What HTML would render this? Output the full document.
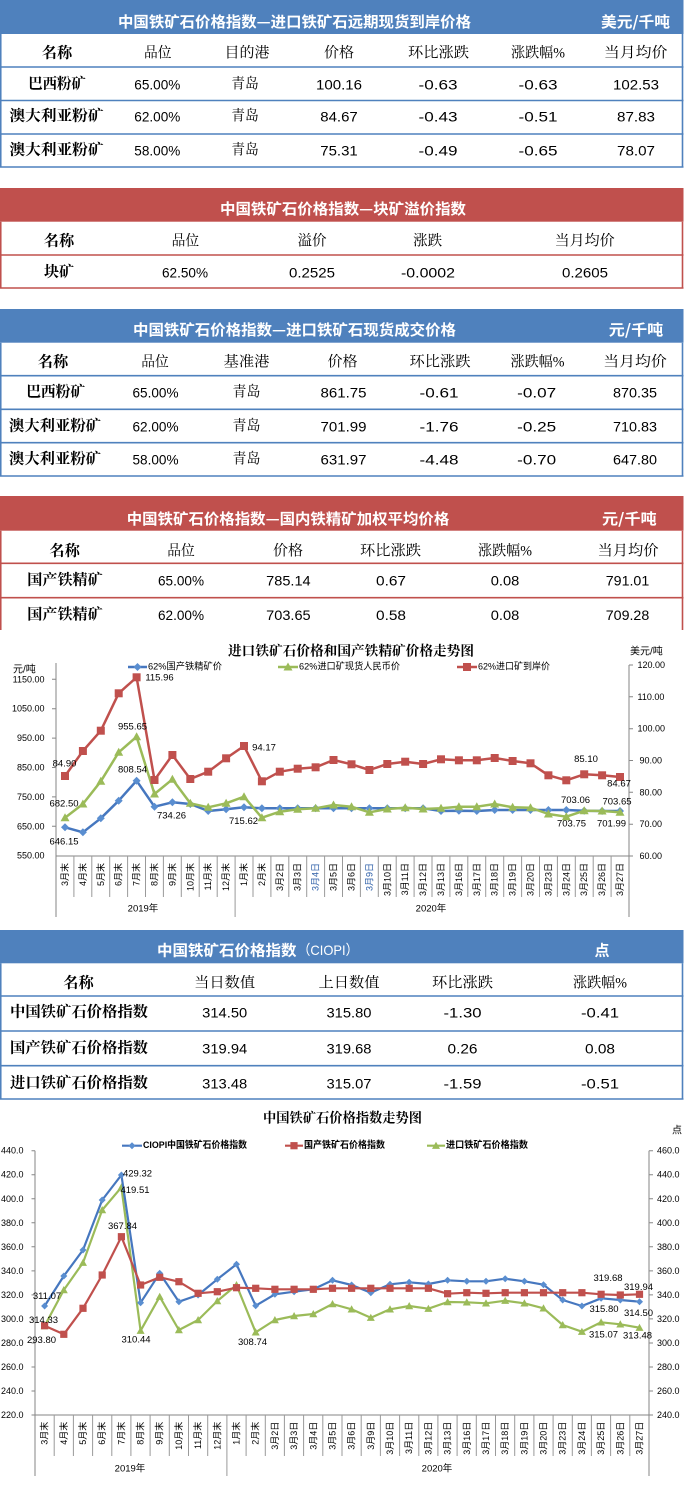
<!DOCTYPE html>
<html><head><meta charset="utf-8">
<style>
html,body{margin:0;padding:0;background:#fff;}
body{width:684px;height:1487px;overflow:hidden;}
svg{display:block;}
text{font-family:"Liberation Sans","Noto Sans CJK SC",sans-serif;fill:#000;}
.ht{font-family:"Noto Sans CJK SC",sans-serif;font-weight:700;font-size:15px;fill:#fff;text-anchor:middle;dominant-baseline:central;}
.th{font-family:"Liberation Serif","Noto Serif CJK SC",serif;font-size:14.5px;text-anchor:middle;dominant-baseline:central;}
.nm{font-family:"Liberation Serif","Noto Serif CJK SC",serif;font-size:15px;font-weight:700;text-anchor:middle;dominant-baseline:central;}
.n{font-family:"Liberation Sans",sans-serif;font-size:14px;text-anchor:middle;dominant-baseline:central;}
.ct{font-family:"Liberation Serif","Noto Serif CJK SC",serif;font-weight:700;font-size:13.5px;text-anchor:middle;dominant-baseline:central;}
.lg{font-size:9.5px;dominant-baseline:central;}
.lg2{font-size:9.5px;font-weight:700;dominant-baseline:central;}
.ax{font-size:9px;dominant-baseline:central;}
.axl{font-size:9px;dominant-baseline:central;text-anchor:end;}
.dl{font-size:9.5px;text-anchor:middle;dominant-baseline:central;}
.cl text{font-size:9px;text-anchor:end;dominant-baseline:central;}
.yr{font-size:9.5px;text-anchor:middle;dominant-baseline:central;}
</style></head>
<body>
<svg width="684" height="1487" viewBox="0 0 684 1487" xmlns="http://www.w3.org/2000/svg">
<defs>
<marker id="d1" markerUnits="userSpaceOnUse" markerWidth="12" markerHeight="12" viewBox="-6 -6 12 12" refX="0" refY="0" overflow="visible"><path d="M0,-4L4,0L0,4L-4,0Z" fill="#5a8ed0"/></marker>
<marker id="t1" markerUnits="userSpaceOnUse" markerWidth="12" markerHeight="12" viewBox="-6 -6 12 12" refX="0" refY="0" overflow="visible"><path d="M0,-4.5L4.5,3.5L-4.5,3.5Z" fill="#9bbb59"/></marker>
<marker id="s1" markerUnits="userSpaceOnUse" markerWidth="12" markerHeight="12" viewBox="-6 -6 12 12" refX="0" refY="0" overflow="visible"><path d="M-4,-4H4V4H-4Z" fill="#c0504d"/></marker>
<marker id="d2" markerUnits="userSpaceOnUse" markerWidth="12" markerHeight="12" viewBox="-6 -6 12 12" refX="0" refY="0" overflow="visible"><path d="M0,-3.5L3.5,0L0,3.5L-3.5,0Z" fill="#5a8ed0"/></marker>
<marker id="t2" markerUnits="userSpaceOnUse" markerWidth="12" markerHeight="12" viewBox="-6 -6 12 12" refX="0" refY="0" overflow="visible"><path d="M0,-4L4,3.2L-4,3.2Z" fill="#9bbb59"/></marker>
<marker id="s2" markerUnits="userSpaceOnUse" markerWidth="12" markerHeight="12" viewBox="-6 -6 12 12" refX="0" refY="0" overflow="visible"><path d="M-3.6,-3.6H3.6V3.6H-3.6Z" fill="#c0504d"/></marker>
</defs>

<!-- TABLE 1 -->
<rect x="0" y="0" width="683.5" height="34" fill="#4f81bd"/>
<path d="M0.75,34V167M682.5,34V167M0,67H683.5M0,100.5H683.5M0,134H683.5M0,167H683.5" stroke="#4f81bd" stroke-width="1.6" fill="none"/>
<text class="ht" x="294.5" y="21.5" textLength="353" lengthAdjust="spacingAndGlyphs">中国铁矿石价格指数—进口铁矿石远期现货到岸价格</text>
<text class="ht" x="635.5" y="21.5" textLength="69" lengthAdjust="spacingAndGlyphs">美元/千吨</text>
<text class="nm" x="57" y="53.3" textLength="30.5" lengthAdjust="spacingAndGlyphs">名称</text>
<text class="th" x="157.7" y="53.3" textLength="27.5" lengthAdjust="spacingAndGlyphs">品位</text>
<text class="th" x="247" y="53.3" textLength="45" lengthAdjust="spacingAndGlyphs">目的港</text>
<text class="th" x="339" y="53.3" textLength="30" lengthAdjust="spacingAndGlyphs">价格</text>
<text class="th" x="438.5" y="53.3" textLength="61" lengthAdjust="spacingAndGlyphs">环比涨跌</text>
<text class="th" x="538" y="53.3" textLength="54" lengthAdjust="spacingAndGlyphs">涨跌幅%</text>
<text class="th" x="635.7" y="53.3" textLength="63.5" lengthAdjust="spacingAndGlyphs">当月均价</text>

<text class="nm" x="57" y="84.5" textLength="57.6" lengthAdjust="spacingAndGlyphs">巴西粉矿</text>
<text class="n" x="157.3" y="84.5" textLength="46" lengthAdjust="spacingAndGlyphs">65.00%</text>
<text class="th" x="245" y="84.5" textLength="27.5" lengthAdjust="spacingAndGlyphs">青岛</text>
<text class="n" x="339" y="84.5" textLength="46" lengthAdjust="spacingAndGlyphs">100.16</text>
<text class="n" x="438" y="84.5" textLength="39" lengthAdjust="spacingAndGlyphs">-0.63</text>
<text class="n" x="538" y="84.5" textLength="39" lengthAdjust="spacingAndGlyphs">-0.63</text>
<text class="n" x="636" y="84.5" textLength="46" lengthAdjust="spacingAndGlyphs">102.53</text>

<text class="nm" x="56.5" y="116.7" textLength="94" lengthAdjust="spacingAndGlyphs">澳大利亚粉矿</text>
<text class="n" x="157.3" y="116.7" textLength="46" lengthAdjust="spacingAndGlyphs">62.00%</text>
<text class="th" x="245" y="116.7" textLength="27.5" lengthAdjust="spacingAndGlyphs">青岛</text>
<text class="n" x="339" y="116.7" textLength="37.5" lengthAdjust="spacingAndGlyphs">84.67</text>
<text class="n" x="438" y="116.7" textLength="39" lengthAdjust="spacingAndGlyphs">-0.43</text>
<text class="n" x="538" y="116.7" textLength="39" lengthAdjust="spacingAndGlyphs">-0.51</text>
<text class="n" x="636" y="116.7" textLength="38" lengthAdjust="spacingAndGlyphs">87.83</text>

<text class="nm" x="56.5" y="150.5" textLength="94" lengthAdjust="spacingAndGlyphs">澳大利亚粉矿</text>
<text class="n" x="157.3" y="150.5" textLength="46" lengthAdjust="spacingAndGlyphs">58.00%</text>
<text class="th" x="245" y="150.5" textLength="27.5" lengthAdjust="spacingAndGlyphs">青岛</text>
<text class="n" x="339" y="150.5" textLength="37.5" lengthAdjust="spacingAndGlyphs">75.31</text>
<text class="n" x="438" y="150.5" textLength="39" lengthAdjust="spacingAndGlyphs">-0.49</text>
<text class="n" x="538" y="150.5" textLength="39" lengthAdjust="spacingAndGlyphs">-0.65</text>
<text class="n" x="636" y="150.5" textLength="38" lengthAdjust="spacingAndGlyphs">78.07</text>

<!-- TABLE 2 -->
<rect x="0" y="188" width="683.5" height="33.7" fill="#c0504d"/>
<path d="M0.75,221.7V288M682.5,221.7V288M0,255H683.5M0,288H683.5" stroke="#c0504d" stroke-width="1.6" fill="none"/>
<text class="ht" x="343" y="208.5" textLength="246" lengthAdjust="spacingAndGlyphs">中国铁矿石价格指数—块矿溢价指数</text>
<text class="nm" x="59" y="241.7" textLength="30.5" lengthAdjust="spacingAndGlyphs">名称</text>
<text class="th" x="185.4" y="241.7" textLength="27.5" lengthAdjust="spacingAndGlyphs">品位</text>
<text class="th" x="312" y="241.7" textLength="29" lengthAdjust="spacingAndGlyphs">溢价</text>
<text class="th" x="427.6" y="241.7" textLength="29" lengthAdjust="spacingAndGlyphs">涨跌</text>
<text class="th" x="584.6" y="241.7" textLength="60" lengthAdjust="spacingAndGlyphs">当月均价</text>
<text class="nm" x="59" y="272.7" textLength="30" lengthAdjust="spacingAndGlyphs">块矿</text>
<text class="n" x="185" y="272.7" textLength="46" lengthAdjust="spacingAndGlyphs">62.50%</text>
<text class="n" x="312" y="272.7" textLength="46" lengthAdjust="spacingAndGlyphs">0.2525</text>
<text class="n" x="428" y="272.7" textLength="54" lengthAdjust="spacingAndGlyphs">-0.0002</text>
<text class="n" x="585" y="272.7" textLength="46" lengthAdjust="spacingAndGlyphs">0.2605</text>

<!-- TABLE 3 -->
<rect x="0" y="309" width="683.5" height="33.7" fill="#4f81bd"/>
<path d="M0.75,342.7V476M682.5,342.7V476M0,375.7H683.5M0,409.3H683.5M0,442.7H683.5M0,476H683.5" stroke="#4f81bd" stroke-width="1.6" fill="none"/>
<text class="ht" x="294.5" y="329.3" textLength="323" lengthAdjust="spacingAndGlyphs">中国铁矿石价格指数—进口铁矿石现货成交价格</text>
<text class="ht" x="636" y="329.3" textLength="54.4" lengthAdjust="spacingAndGlyphs">元/千吨</text>
<text class="nm" x="53" y="362.3" textLength="30.5" lengthAdjust="spacingAndGlyphs">名称</text>
<text class="th" x="155" y="362.3" textLength="27.5" lengthAdjust="spacingAndGlyphs">品位</text>
<text class="th" x="246.5" y="362.3" textLength="46" lengthAdjust="spacingAndGlyphs">基准港</text>
<text class="th" x="342.5" y="362.3" textLength="30" lengthAdjust="spacingAndGlyphs">价格</text>
<text class="th" x="440" y="362.3" textLength="61" lengthAdjust="spacingAndGlyphs">环比涨跌</text>
<text class="th" x="537.5" y="362.3" textLength="54" lengthAdjust="spacingAndGlyphs">涨跌幅%</text>
<text class="th" x="635" y="362.3" textLength="63.5" lengthAdjust="spacingAndGlyphs">当月均价</text>

<text class="nm" x="55.7" y="392.7" textLength="59" lengthAdjust="spacingAndGlyphs">巴西粉矿</text>
<text class="n" x="155.5" y="392.7" textLength="46" lengthAdjust="spacingAndGlyphs">65.00%</text>
<text class="th" x="246.5" y="392.7" textLength="28" lengthAdjust="spacingAndGlyphs">青岛</text>
<text class="n" x="343.5" y="392.7" textLength="46" lengthAdjust="spacingAndGlyphs">861.75</text>
<text class="n" x="439" y="392.7" textLength="39" lengthAdjust="spacingAndGlyphs">-0.61</text>
<text class="n" x="536.7" y="392.7" textLength="39" lengthAdjust="spacingAndGlyphs">-0.07</text>
<text class="n" x="635" y="392.7" textLength="44" lengthAdjust="spacingAndGlyphs">870.35</text>

<text class="nm" x="55" y="426.7" textLength="92" lengthAdjust="spacingAndGlyphs">澳大利亚粉矿</text>
<text class="n" x="155.5" y="426.7" textLength="46" lengthAdjust="spacingAndGlyphs">62.00%</text>
<text class="th" x="246.5" y="426.7" textLength="28" lengthAdjust="spacingAndGlyphs">青岛</text>
<text class="n" x="343.5" y="426.7" textLength="46" lengthAdjust="spacingAndGlyphs">701.99</text>
<text class="n" x="439" y="426.7" textLength="39" lengthAdjust="spacingAndGlyphs">-1.76</text>
<text class="n" x="536.7" y="426.7" textLength="39" lengthAdjust="spacingAndGlyphs">-0.25</text>
<text class="n" x="635" y="426.7" textLength="44" lengthAdjust="spacingAndGlyphs">710.83</text>

<text class="nm" x="55" y="459.3" textLength="92" lengthAdjust="spacingAndGlyphs">澳大利亚粉矿</text>
<text class="n" x="155.5" y="459.3" textLength="46" lengthAdjust="spacingAndGlyphs">58.00%</text>
<text class="th" x="246.5" y="459.3" textLength="28" lengthAdjust="spacingAndGlyphs">青岛</text>
<text class="n" x="343.5" y="459.3" textLength="46" lengthAdjust="spacingAndGlyphs">631.97</text>
<text class="n" x="439" y="459.3" textLength="39" lengthAdjust="spacingAndGlyphs">-4.48</text>
<text class="n" x="536.7" y="459.3" textLength="39" lengthAdjust="spacingAndGlyphs">-0.70</text>
<text class="n" x="635" y="459.3" textLength="44" lengthAdjust="spacingAndGlyphs">647.80</text>

<!-- TABLE 4 -->
<rect x="0" y="496" width="683.5" height="34.7" fill="#c0504d"/>
<path d="M0.75,530.7V630M682.5,530.7V630M0,563.3H683.5M0,597.7H683.5" stroke="#c0504d" stroke-width="1.6" fill="none"/>
<text class="ht" x="288" y="518.3" textLength="322.5" lengthAdjust="spacingAndGlyphs">中国铁矿石价格指数—国内铁精矿加权平均价格</text>
<text class="ht" x="629.3" y="518.3" textLength="54.6" lengthAdjust="spacingAndGlyphs">元/千吨</text>
<text class="nm" x="64.6" y="551.7" textLength="30.5" lengthAdjust="spacingAndGlyphs">名称</text>
<text class="th" x="181" y="551.7" textLength="27.5" lengthAdjust="spacingAndGlyphs">品位</text>
<text class="th" x="288" y="551.7" textLength="30" lengthAdjust="spacingAndGlyphs">价格</text>
<text class="th" x="390.5" y="551.7" textLength="61" lengthAdjust="spacingAndGlyphs">环比涨跌</text>
<text class="th" x="505" y="551.7" textLength="54" lengthAdjust="spacingAndGlyphs">涨跌幅%</text>
<text class="th" x="628" y="551.7" textLength="61" lengthAdjust="spacingAndGlyphs">当月均价</text>

<text class="nm" x="65" y="580.7" textLength="75.5" lengthAdjust="spacingAndGlyphs">国产铁精矿</text>
<text class="n" x="181" y="580.7" textLength="46" lengthAdjust="spacingAndGlyphs">65.00%</text>
<text class="n" x="288.4" y="580.7" textLength="44.5" lengthAdjust="spacingAndGlyphs">785.14</text>
<text class="n" x="391" y="580.7" textLength="30" lengthAdjust="spacingAndGlyphs">0.67</text>
<text class="n" x="505" y="580.7" textLength="28.5" lengthAdjust="spacingAndGlyphs">0.08</text>
<text class="n" x="627.5" y="580.7" textLength="43.5" lengthAdjust="spacingAndGlyphs">791.01</text>

<text class="nm" x="65" y="615" textLength="75.5" lengthAdjust="spacingAndGlyphs">国产铁精矿</text>
<text class="n" x="181" y="615" textLength="46" lengthAdjust="spacingAndGlyphs">62.00%</text>
<text class="n" x="288.4" y="615" textLength="44.5" lengthAdjust="spacingAndGlyphs">703.65</text>
<text class="n" x="391" y="615" textLength="30" lengthAdjust="spacingAndGlyphs">0.58</text>
<text class="n" x="505" y="615" textLength="28.5" lengthAdjust="spacingAndGlyphs">0.08</text>
<text class="n" x="627.5" y="615" textLength="43.5" lengthAdjust="spacingAndGlyphs">709.28</text>

<!-- CHART 1 -->
<text class="ct" x="351" y="651" textLength="246" lengthAdjust="spacingAndGlyphs">进口铁矿石价格和国产铁精矿价格走势图</text>
<text x="13" y="670" font-size="10" dominant-baseline="central">元/吨</text>
<text x="630" y="652" font-size="10" dominant-baseline="central">美元/吨</text>
<!-- legend -->
<path d="M128,667H147" stroke="#4677bf" stroke-width="2.5"/>
<path d="M137.5,663L141.5,667L137.5,671L133.5,667Z" fill="#5a8ed0"/>
<text class="lg" x="148" y="667" textLength="74" lengthAdjust="spacingAndGlyphs">62%国产铁精矿价</text>
<path d="M278,667H298" stroke="#9bbb59" stroke-width="2.5"/>
<path d="M288,662.5L292.5,670.5L283.5,670.5Z" fill="#9bbb59"/>
<text class="lg" x="299" y="667" textLength="101" lengthAdjust="spacingAndGlyphs">62%进口矿现货人民币价</text>
<path d="M457,667H477" stroke="#c0504d" stroke-width="2.5"/>
<rect x="463" y="663" width="8" height="8" fill="#c0504d"/>
<text class="lg" x="478" y="667" textLength="72" lengthAdjust="spacingAndGlyphs">62%进口矿到岸价</text>
<!-- axes -->
<path d="M56,663V917M629,665V917M56,856H629" stroke="#868686" stroke-width="1" fill="none"/>
<path d="M52,679.3H56M52,708.7H56M52,738.1H56M52,767.5H56M52,796.9H56M52,826.3H56M629,665H633M629,696.8H633M629,728.7H633M629,760.5H633M629,792.3H633M629,824.2H633M629,856H633" stroke="#868686" stroke-width="1"/>
<path d="M73.9,856V897M91.8,856V897M109.7,856V897M127.6,856V897M145.5,856V897M163.4,856V897M181.3,856V897M199.2,856V897M217.2,856V897M235.1,856V917M253,856V897M270.9,856V897M288.8,856V897M306.7,856V897M324.6,856V897M342.5,856V897M360.4,856V897M378.3,856V897M396.2,856V897M414.1,856V897M432,856V897M449.9,856V897M467.8,856V897M485.7,856V897M503.7,856V897M521.6,856V897M539.5,856V897M557.4,856V897M575.3,856V897M593.2,856V897M611.1,856V897" stroke="#9a9a9a" stroke-width="1"/>
<text class="axl" x="44.5" y="679.3">1150.00</text>
<text class="axl" x="44.5" y="708.7">1050.00</text>
<text class="axl" x="44.5" y="738.1">950.00</text>
<text class="axl" x="44.5" y="767.5">850.00</text>
<text class="axl" x="44.5" y="796.9">750.00</text>
<text class="axl" x="44.5" y="826.3">650.00</text>
<text class="axl" x="44.5" y="855.7">550.00</text>
<text class="ax" x="637.5" y="665">120.00</text>
<text class="ax" x="637.5" y="696.8">110.00</text>
<text class="ax" x="637.5" y="728.7">100.00</text>
<text class="ax" x="639.5" y="760.5">90.00</text>
<text class="ax" x="639.5" y="792.3">80.00</text>
<text class="ax" x="639.5" y="824.2">70.00</text>
<text class="ax" x="639.5" y="856">60.00</text>
<g class="cl">
<text transform="translate(65,863) rotate(-90)">3月末</text>
<text transform="translate(82.9,863) rotate(-90)">4月末</text>
<text transform="translate(100.8,863) rotate(-90)">5月末</text>
<text transform="translate(118.7,863) rotate(-90)">6月末</text>
<text transform="translate(136.6,863) rotate(-90)">7月末</text>
<text transform="translate(154.5,863) rotate(-90)">8月末</text>
<text transform="translate(172.4,863) rotate(-90)">9月末</text>
<text transform="translate(190.3,863) rotate(-90)">10月末</text>
<text transform="translate(208.2,863) rotate(-90)">11月末</text>
<text transform="translate(226.1,863) rotate(-90)">12月末</text>
<text transform="translate(244,863) rotate(-90)">1月末</text>
<text transform="translate(261.9,863) rotate(-90)">2月末</text>
<text transform="translate(279.8,863) rotate(-90)">3月2日</text>
<text transform="translate(297.7,863) rotate(-90)">3月3日</text>
<text transform="translate(315.6,863) rotate(-90)" style="fill:#2e5fa8">3月4日</text>
<text transform="translate(333.5,863) rotate(-90)">3月5日</text>
<text transform="translate(351.5,863) rotate(-90)">3月6日</text>
<text transform="translate(369.4,863) rotate(-90)" style="fill:#2e5fa8">3月9日</text>
<text transform="translate(387.3,863) rotate(-90)">3月10日</text>
<text transform="translate(405.2,863) rotate(-90)">3月11日</text>
<text transform="translate(423.1,863) rotate(-90)">3月12日</text>
<text transform="translate(441,863) rotate(-90)">3月13日</text>
<text transform="translate(458.9,863) rotate(-90)">3月16日</text>
<text transform="translate(476.8,863) rotate(-90)">3月17日</text>
<text transform="translate(494.7,863) rotate(-90)">3月18日</text>
<text transform="translate(512.6,863) rotate(-90)">3月19日</text>
<text transform="translate(530.5,863) rotate(-90)">3月20日</text>
<text transform="translate(548.4,863) rotate(-90)">3月23日</text>
<text transform="translate(566.3,863) rotate(-90)">3月24日</text>
<text transform="translate(584.2,863) rotate(-90)">3月25日</text>
<text transform="translate(602.1,863) rotate(-90)">3月26日</text>
<text transform="translate(620,863) rotate(-90)">3月27日</text>
</g>
<text class="yr" x="143" y="909">2019年</text>
<text class="yr" x="431" y="909">2020年</text>
<!-- series -->
<polyline fill="none" stroke="#4677bf" stroke-width="2.5" stroke-linejoin="round" marker-start="url(#d1)" marker-mid="url(#d1)" marker-end="url(#d1)" points="65,827.3 82.9,832.3 100.8,818.3 118.7,800.7 136.6,780.7 154.5,806.7 172.4,802.3 190.3,804 208.2,811 226.1,809.3 244,807.3 261.9,808.3 279.8,808.3 297.7,808.3 315.6,808.3 333.5,808.3 351.5,808.3 369.4,808.3 387.3,808.3 405.2,808.3 423.1,808.3 441,811 458.9,810.7 476.8,811 494.7,810 512.6,810 530.5,810 548.4,810 566.3,810 584.2,810.7 602.1,811 620,811"/>
<polyline fill="none" stroke="#9bbb59" stroke-width="2.5" stroke-linejoin="round" marker-start="url(#t1)" marker-mid="url(#t1)" marker-end="url(#t1)" points="65,817.7 82.9,804 100.8,781.3 118.7,752.3 136.6,736.7 154.5,794 172.4,779.3 190.3,803.3 208.2,807.3 226.1,803.3 244,796.7 261.9,817.7 279.8,811.7 297.7,809.3 315.6,808.3 333.5,805 351.5,806.7 369.4,812.3 387.3,809 405.2,807.7 423.1,809 441,808.3 458.9,806.7 476.8,806.7 494.7,804 512.6,807.3 530.5,807.7 548.4,814 566.3,816.7 584.2,810.7 602.1,811 620,812.3"/>
<polyline fill="none" stroke="#c0504d" stroke-width="2.5" stroke-linejoin="round" marker-start="url(#s1)" marker-mid="url(#s1)" marker-end="url(#s1)" points="65,776 82.9,751 100.8,730.7 118.7,693.3 136.6,677.3 154.5,780 172.4,755 190.3,779 208.2,771.7 226.1,758.3 244,746 261.9,781.3 279.8,771.7 297.7,768.7 315.6,767.3 333.5,760 351.5,764.3 369.4,770 387.3,764 405.2,761.7 423.1,764 441,759.3 458.9,760.3 476.8,760.3 494.7,758 512.6,761 530.5,763.3 548.4,775.3 566.3,780.3 584.2,774.3 602.1,775.3 620,777"/>
<!-- data labels -->
<text class="dl" x="64.5" y="764">84.90</text>
<text class="dl" x="159.5" y="678">115.96</text>
<text class="dl" x="132.5" y="727">955.65</text>
<text class="dl" x="132.5" y="770">808.54</text>
<text class="dl" x="64" y="804">682.50</text>
<text class="dl" x="64" y="842">646.15</text>
<text class="dl" x="171.5" y="816">734.26</text>
<text class="dl" x="264" y="748">94.17</text>
<text class="dl" x="243.5" y="821.7">715.62</text>
<text class="dl" x="586" y="759.3">85.10</text>
<text class="dl" x="619" y="784">84.67</text>
<text class="dl" x="575.5" y="800.3">703.06</text>
<text class="dl" x="617" y="802">703.65</text>
<text class="dl" x="571.5" y="824">703.75</text>
<text class="dl" x="611.5" y="824">701.99</text>

<!-- TABLE 5 CIOPI -->
<rect x="0" y="930" width="683.5" height="33.3" fill="#4f81bd"/>
<path d="M0.75,963.3V1099M682.5,963.3V1099M0,996H683.5M0,1031H683.5M0,1065.7H683.5M0,1099H683.5" stroke="#4f81bd" stroke-width="1.6" fill="none"/>
<text class="ht" x="157" y="950" style="text-anchor:start" textLength="139.5" lengthAdjust="spacingAndGlyphs">中国铁矿石价格指数</text>
<text x="297.5" y="950" font-size="14" fill="#fff" style="fill:#fff;dominant-baseline:central;font-family:'Liberation Sans','Noto Sans CJK SC',sans-serif" textLength="61" lengthAdjust="spacingAndGlyphs">（CIOPI）</text>
<text class="ht" x="602" y="950">点</text>
<text class="nm" x="78.5" y="983.3" textLength="30.5" lengthAdjust="spacingAndGlyphs">名称</text>
<text class="th" x="224.7" y="983.3" textLength="61" lengthAdjust="spacingAndGlyphs">当日数值</text>
<text class="th" x="349" y="983.3" textLength="61" lengthAdjust="spacingAndGlyphs">上日数值</text>
<text class="th" x="462.5" y="983.3" textLength="61" lengthAdjust="spacingAndGlyphs">环比涨跌</text>
<text class="th" x="600" y="983.3" textLength="54" lengthAdjust="spacingAndGlyphs">涨跌幅%</text>

<text class="nm" x="79" y="1012.7" textLength="138" lengthAdjust="spacingAndGlyphs">中国铁矿石价格指数</text>
<text class="n" x="224.7" y="1012.7" textLength="45" lengthAdjust="spacingAndGlyphs">314.50</text>
<text class="n" x="349" y="1012.7" textLength="45" lengthAdjust="spacingAndGlyphs">315.80</text>
<text class="n" x="462.5" y="1012.7" textLength="38" lengthAdjust="spacingAndGlyphs">-1.30</text>
<text class="n" x="600" y="1012.7" textLength="38" lengthAdjust="spacingAndGlyphs">-0.41</text>

<text class="nm" x="79" y="1048.3" textLength="138" lengthAdjust="spacingAndGlyphs">国产铁矿石价格指数</text>
<text class="n" x="224.7" y="1048.3" textLength="45" lengthAdjust="spacingAndGlyphs">319.94</text>
<text class="n" x="349" y="1048.3" textLength="45" lengthAdjust="spacingAndGlyphs">319.68</text>
<text class="n" x="462.5" y="1048.3" textLength="30" lengthAdjust="spacingAndGlyphs">0.26</text>
<text class="n" x="600" y="1048.3" textLength="30" lengthAdjust="spacingAndGlyphs">0.08</text>

<text class="nm" x="79" y="1083.3" textLength="138" lengthAdjust="spacingAndGlyphs">进口铁矿石价格指数</text>
<text class="n" x="224.7" y="1083.3" textLength="45" lengthAdjust="spacingAndGlyphs">313.48</text>
<text class="n" x="349" y="1083.3" textLength="45" lengthAdjust="spacingAndGlyphs">315.07</text>
<text class="n" x="462.5" y="1083.3" textLength="38" lengthAdjust="spacingAndGlyphs">-1.59</text>
<text class="n" x="600" y="1083.3" textLength="38" lengthAdjust="spacingAndGlyphs">-0.51</text>

<!-- CHART 2 -->
<text class="ct" x="342.5" y="1118" textLength="159" lengthAdjust="spacingAndGlyphs">中国铁矿石价格指数走势图</text>
<text x="672" y="1131" font-size="10" dominant-baseline="central">点</text>
<path d="M122,1145.7H142" stroke="#4677bf" stroke-width="2.2"/>
<path d="M132,1142.2L135.5,1145.7L132,1149.2L128.5,1145.7Z" fill="#5a8ed0"/>
<text class="lg2" x="143" y="1145.7" textLength="104" lengthAdjust="spacingAndGlyphs">CIOPI中国铁矿石价格指数</text>
<path d="M285,1145.7H303" stroke="#c0504d" stroke-width="2.2"/>
<rect x="290.4" y="1142.1" width="7.2" height="7.2" fill="#c0504d"/>
<text class="lg2" x="304" y="1145.7" textLength="81" lengthAdjust="spacingAndGlyphs">国产铁矿石价格指数</text>
<path d="M427,1145.7H445" stroke="#9bbb59" stroke-width="2.2"/>
<path d="M436,1141.7L440,1148.9L432,1148.9Z" fill="#9bbb59"/>
<text class="lg2" x="446" y="1145.7" textLength="82" lengthAdjust="spacingAndGlyphs">进口铁矿石价格指数</text>
<path d="M35,1150.7V1476M649,1150.7V1476M35,1415H649" stroke="#868686" stroke-width="1" fill="none"/>
<path d="M31.5,1150.7H35M31.5,1174.7H35M31.5,1198.8H35M31.5,1222.8H35M31.5,1246.8H35M31.5,1270.9H35M31.5,1294.9H35M31.5,1318.9H35M31.5,1343H35M31.5,1367H35M31.5,1391H35M31.5,1415H35M649,1150.7H653M649,1174.7H653M649,1198.8H653M649,1222.8H653M649,1246.8H653M649,1270.9H653M649,1294.9H653M649,1318.9H653M649,1343H653M649,1367H653M649,1391H653M649,1415H653" stroke="#868686" stroke-width="1"/>
<path d="M54.2,1415V1456M73.4,1415V1456M92.6,1415V1456M111.8,1415V1456M130.9,1415V1456M150.1,1415V1456M169.3,1415V1456M188.5,1415V1456M207.7,1415V1456M226.9,1415V1476M246.1,1415V1456M265.3,1415V1456M284.4,1415V1456M303.6,1415V1456M322.8,1415V1456M342,1415V1456M361.2,1415V1456M380.4,1415V1456M399.6,1415V1456M418.8,1415V1456M437.9,1415V1456M457.1,1415V1456M476.3,1415V1456M495.5,1415V1456M514.7,1415V1456M533.9,1415V1456M553.1,1415V1456M572.3,1415V1456M591.4,1415V1456M610.6,1415V1456M629.8,1415V1456" stroke="#9a9a9a" stroke-width="1"/>
<text class="axl" x="23.5" y="1150.7">440.0</text>
<text class="axl" x="23.5" y="1174.7">420.0</text>
<text class="axl" x="23.5" y="1198.8">400.0</text>
<text class="axl" x="23.5" y="1222.8">380.0</text>
<text class="axl" x="23.5" y="1246.8">360.0</text>
<text class="axl" x="23.5" y="1270.9">340.0</text>
<text class="axl" x="23.5" y="1294.9">320.0</text>
<text class="axl" x="23.5" y="1318.9">300.0</text>
<text class="axl" x="23.5" y="1343">280.0</text>
<text class="axl" x="23.5" y="1367">260.0</text>
<text class="axl" x="23.5" y="1391">240.0</text>
<text class="axl" x="23.5" y="1415">220.0</text>
<text class="ax" x="657" y="1150.7">460.0</text>
<text class="ax" x="657" y="1174.7">440.0</text>
<text class="ax" x="657" y="1198.8">420.0</text>
<text class="ax" x="657" y="1222.8">400.0</text>
<text class="ax" x="657" y="1246.8">380.0</text>
<text class="ax" x="657" y="1270.9">360.0</text>
<text class="ax" x="657" y="1294.9">340.0</text>
<text class="ax" x="657" y="1318.9">320.0</text>
<text class="ax" x="657" y="1343">300.0</text>
<text class="ax" x="657" y="1367">280.0</text>
<text class="ax" x="657" y="1391">260.0</text>
<text class="ax" x="657" y="1415">240.0</text>
<g class="cl">
<text transform="translate(44.6,1421.7) rotate(-90)">3月末</text>
<text transform="translate(63.8,1421.7) rotate(-90)">4月末</text>
<text transform="translate(83,1421.7) rotate(-90)">5月末</text>
<text transform="translate(102.2,1421.7) rotate(-90)">6月末</text>
<text transform="translate(121.4,1421.7) rotate(-90)">7月末</text>
<text transform="translate(140.6,1421.7) rotate(-90)">8月末</text>
<text transform="translate(159.7,1421.7) rotate(-90)">9月末</text>
<text transform="translate(178.9,1421.7) rotate(-90)">10月末</text>
<text transform="translate(198.1,1421.7) rotate(-90)">11月末</text>
<text transform="translate(217.3,1421.7) rotate(-90)">12月末</text>
<text transform="translate(236.5,1421.7) rotate(-90)">1月末</text>
<text transform="translate(255.7,1421.7) rotate(-90)">2月末</text>
<text transform="translate(274.9,1421.7) rotate(-90)">3月2日</text>
<text transform="translate(294.1,1421.7) rotate(-90)">3月3日</text>
<text transform="translate(313.3,1421.7) rotate(-90)">3月4日</text>
<text transform="translate(332.5,1421.7) rotate(-90)">3月5日</text>
<text transform="translate(351.6,1421.7) rotate(-90)">3月6日</text>
<text transform="translate(370.8,1421.7) rotate(-90)">3月9日</text>
<text transform="translate(390,1421.7) rotate(-90)">3月10日</text>
<text transform="translate(409.2,1421.7) rotate(-90)">3月11日</text>
<text transform="translate(428.4,1421.7) rotate(-90)">3月12日</text>
<text transform="translate(447.6,1421.7) rotate(-90)">3月13日</text>
<text transform="translate(466.8,1421.7) rotate(-90)">3月16日</text>
<text transform="translate(486,1421.7) rotate(-90)">3月17日</text>
<text transform="translate(505.2,1421.7) rotate(-90)">3月18日</text>
<text transform="translate(524.4,1421.7) rotate(-90)">3月19日</text>
<text transform="translate(543.5,1421.7) rotate(-90)">3月20日</text>
<text transform="translate(562.7,1421.7) rotate(-90)">3月23日</text>
<text transform="translate(581.9,1421.7) rotate(-90)">3月24日</text>
<text transform="translate(601.1,1421.7) rotate(-90)">3月25日</text>
<text transform="translate(620.3,1421.7) rotate(-90)">3月26日</text>
<text transform="translate(639.5,1421.7) rotate(-90)">3月27日</text>
</g>
<text class="yr" x="130" y="1469">2019年</text>
<text class="yr" x="437" y="1469">2020年</text>
<polyline fill="none" stroke="#9bbb59" stroke-width="2.2" stroke-linejoin="round" marker-start="url(#t2)" marker-mid="url(#t2)" marker-end="url(#t2)" points="44.6,1326 63.8,1290 83,1262.7 102.2,1210 121.4,1187.3 140.6,1330.7 159.7,1296.7 178.9,1330 198.1,1320 217.3,1301 236.5,1285 255.7,1332.3 274.9,1320 294.1,1316 313.3,1314 332.5,1304 351.6,1309.3 370.8,1317.7 390,1309.3 409.2,1306 428.4,1308.7 447.6,1302 466.8,1302.3 486,1303.3 505.2,1300.7 524.4,1303.3 543.5,1308.3 562.7,1325 581.9,1331.7 601.1,1322.3 620.3,1324.3 639.5,1327.7"/>
<polyline fill="none" stroke="#4677bf" stroke-width="2.2" stroke-linejoin="round" marker-start="url(#d2)" marker-mid="url(#d2)" marker-end="url(#d2)" points="44.6,1306 63.8,1276 83,1250 102.2,1200 121.4,1175 140.6,1302.7 159.7,1273.3 178.9,1301.7 198.1,1295 217.3,1279.3 236.5,1264.3 255.7,1305.7 274.9,1294.3 294.1,1291.7 313.3,1289.3 332.5,1280.3 351.6,1285 370.8,1292.7 390,1284.3 409.2,1282.3 428.4,1284 447.6,1280.3 466.8,1281.3 486,1281.3 505.2,1278.7 524.4,1281.3 543.5,1284.7 562.7,1300 581.9,1306 601.1,1298.3 620.3,1300 639.5,1301.7"/>
<polyline fill="none" stroke="#c0504d" stroke-width="2.2" stroke-linejoin="round" marker-start="url(#s2)" marker-mid="url(#s2)" marker-end="url(#s2)" points="44.6,1325.7 63.8,1334.3 83,1308.3 102.2,1275 121.4,1236.7 140.6,1285 159.7,1277.3 178.9,1281.7 198.1,1293.3 217.3,1291.7 236.5,1287.7 255.7,1288.3 274.9,1289.3 294.1,1289.3 313.3,1289.3 332.5,1288.3 351.6,1288.3 370.8,1288.3 390,1288.3 409.2,1288.3 428.4,1288.3 447.6,1293.7 466.8,1292.7 486,1293.3 505.2,1292.7 524.4,1292.7 543.5,1292.7 562.7,1292.7 581.9,1292.7 601.1,1294.3 620.3,1295 639.5,1294.3"/>
<text class="dl" x="47" y="1296.7">311.07</text>
<text class="dl" x="43.5" y="1320.7">314.33</text>
<text class="dl" x="41.5" y="1340.7">293.80</text>
<text class="dl" x="137.5" y="1174">429.32</text>
<text class="dl" x="135" y="1190.7">419.51</text>
<text class="dl" x="122.5" y="1226.7">367.84</text>
<text class="dl" x="136" y="1340">310.44</text>
<text class="dl" x="252.5" y="1342.3">308.74</text>
<text class="dl" x="608" y="1278.3">319.68</text>
<text class="dl" x="638.5" y="1287.3">319.94</text>
<text class="dl" x="604" y="1309.3">315.80</text>
<text class="dl" x="638.5" y="1313.3">314.50</text>
<text class="dl" x="603.5" y="1335">315.07</text>
<text class="dl" x="637.5" y="1336">313.48</text>
</svg>
</body></html>
